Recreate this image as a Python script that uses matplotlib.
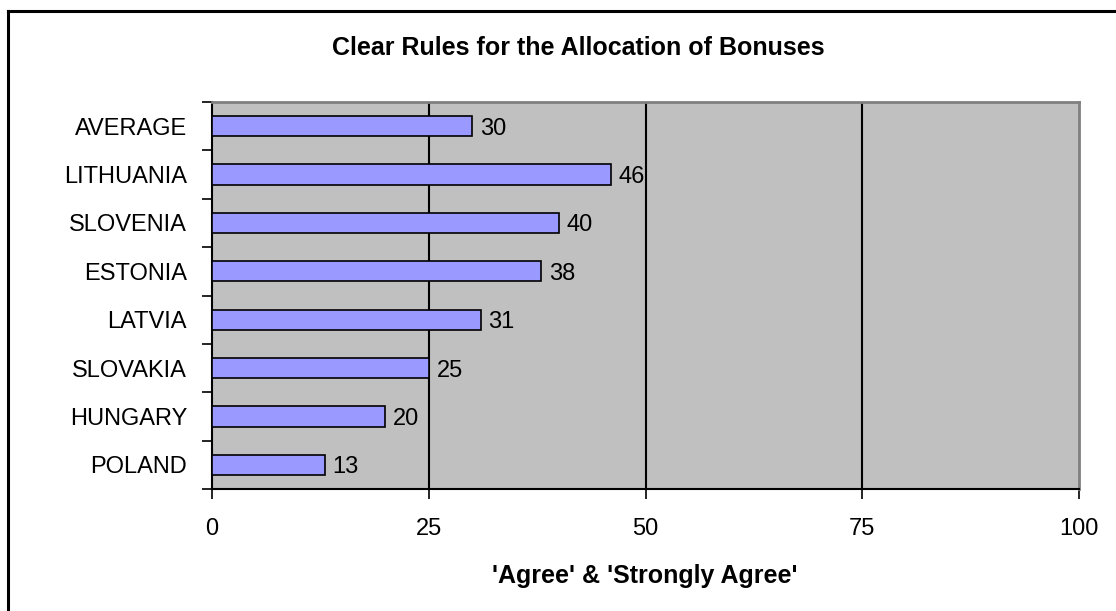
import numpy as np
import matplotlib.pyplot as plt
from matplotlib.lines import Line2D

plt.rcParams['font.family'] = ['Liberation Sans', 'DejaVu Sans']

countries = ['POLAND', 'HUNGARY', 'SLOVAKIA', 'LATVIA', 'ESTONIA',
             'SLOVENIA', 'LITHUANIA', 'AVERAGE']
values = [13, 20, 25, 31, 38, 40, 46, 30]
xticks = [0, 25, 50, 75, 100]

W, H = 1116, 611
fig = plt.figure(figsize=(W / 100, H / 100), dpi=100)
ax = fig.add_axes([212 / W, 1 - 489 / H, (1079 - 212) / W, (489 - 102) / H])

# outer chart frame (cut off at right and bottom like the original)
fig.add_artist(Line2D([8 / W, 8 / W], [0, 1 - 11 / H], color='black', lw=2.2,
                      transform=fig.transFigure))
fig.add_artist(Line2D([8 / W, 1], [1 - 11 / H, 1 - 11 / H], color='black', lw=2.2,
                      transform=fig.transFigure))

ax.set_facecolor('#C0C0C0')
y = np.arange(len(countries))
ax.barh(y, values, height=0.42, color='#9999FF', edgecolor='black', lw=1.2, zorder=3)
for yi, v in zip(y, values):
    ax.text(v + 0.9, yi, str(v), va='center_baseline', ha='left', fontsize=17, zorder=4)

ax.set_xlim(0, 100)
ax.set_ylim(-0.5, len(countries) - 0.5)
ax.set_xticks(xticks)
ax.set_xticklabels([str(t) for t in xticks], fontsize=17)
ax.tick_params(axis='x', direction='out', length=7, width=1.2, pad=14)
for t in xticks[1:-1]:
    ax.axvline(t, color='black', lw=1.5, zorder=2)

ax.set_yticks(y)
ax.set_yticklabels(countries, fontsize=17, va='center_baseline')
ax.tick_params(axis='y', which='major', length=0, pad=18)
ax.set_yticks(np.arange(-0.5, len(countries)), minor=True)
ax.tick_params(axis='y', which='minor', direction='out', length=7, width=1.2)

for s in ['left', 'bottom']:
    ax.spines[s].set_color('black')
    ax.spines[s].set_linewidth(1.5)
for s in ['top', 'right']:
    ax.spines[s].set_color('#808080')
    ax.spines[s].set_linewidth(2)

fig.text(578 / W, 1 - 48 / H, 'Clear Rules for the Allocation of Bonuses',
         ha='center', va='center', fontsize=18, fontweight='bold')
fig.text(645 / W, 1 - 576 / H, "'Agree' & 'Strongly Agree'",
         ha='center', va='center', fontsize=18, fontweight='bold')

fig.savefig('out.png', dpi=100)
